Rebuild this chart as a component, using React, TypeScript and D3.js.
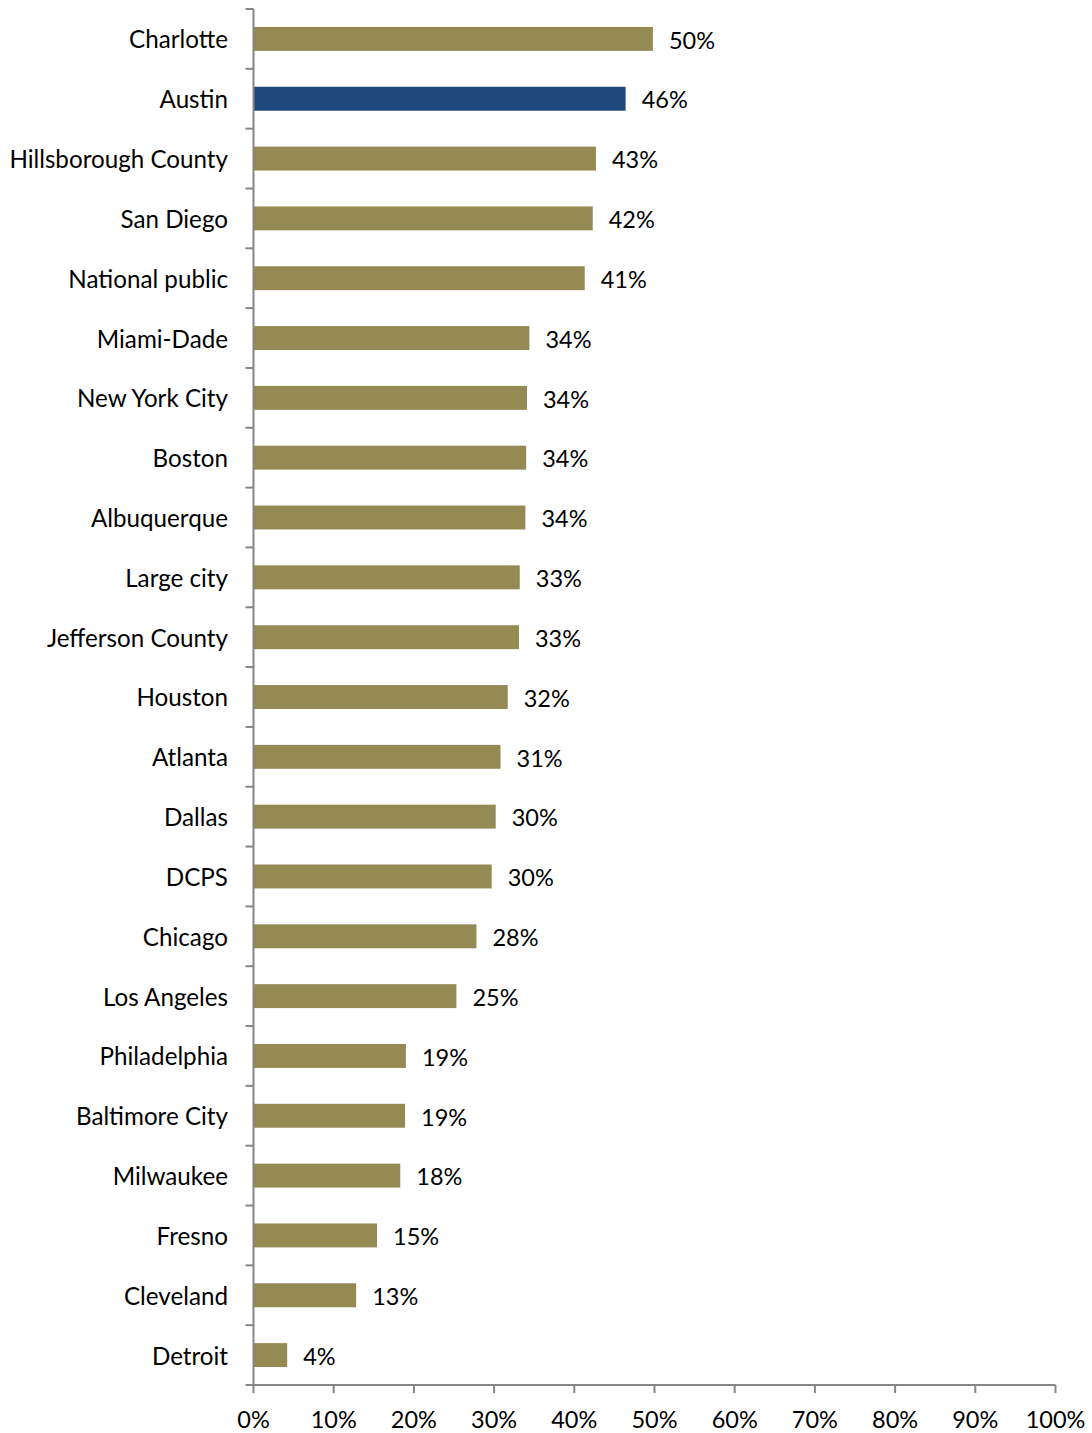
import React from "react";
import * as d3 from "d3";

const categories = [
  "Charlotte", "Austin", "Hillsborough County", "San Diego", "National public",
  "Miami-Dade", "New York City", "Boston", "Albuquerque", "Large city",
  "Jefferson County", "Houston", "Atlanta", "Dallas", "DCPS", "Chicago",
  "Los Angeles", "Philadelphia", "Baltimore City", "Milwaukee", "Fresno",
  "Cleveland", "Detroit",
];
const values = [
  49.8, 46.4, 42.7, 42.3, 41.3, 34.4, 34.1, 34.0, 33.9, 33.2, 33.1, 31.7,
  30.8, 30.2, 29.7, 27.8, 25.3, 19.0, 18.9, 18.3, 15.4, 12.8, 4.2,
];
const labels = [
  "50%", "46%", "43%", "42%", "41%", "34%", "34%", "34%", "34%", "33%", "33%",
  "32%", "31%", "30%", "30%", "28%", "25%", "19%", "19%", "18%", "15%", "13%", "4%",
];
const xTicks = [0, 10, 20, 30, 40, 50, 60, 70, 80, 90, 100];
const highlight = "Austin";

const W = 1092;
const H = 1433;
const FONT = "Lato, 'Open Sans', sans-serif";

export default function App() {
  const x = d3.scaleLinear().domain([0, 100]).range([253.5, 1055.5]);
  const y = d3.scaleBand<string>().domain(categories).range([9, 1385]).paddingInner(0.6).paddingOuter(0.3);
  const band = d3.scaleBand<string>().domain(categories).range([9, 1385]);
  const axisColor = "#868686";
  const x0 = x(0);
  const yBottom = 1385;
  return (
    <svg width={W} height={H} style={{ position: "absolute", left: 0, top: 0 }}>
      <rect x={0} y={0} width={W} height={H} fill="#fff" />
      {categories.map((c, i) => (
        <g key={c}>
          <rect
            x={x0}
            y={y(c)}
            width={x(values[i]) - x0}
            height={y.bandwidth()}
            fill={c === highlight ? "#1F497D" : "#948A54"}
          />
          <text
            x={x(values[i]) + 16}
            y={(band(c) as number) + band.bandwidth() / 2 + 1.5}
            dy="0.35em"
            fontFamily={FONT}
            fontSize={23.5}
            fill="#000"
          >
            {labels[i]}
          </text>
          <text
            x={228}
            y={(band(c) as number) + band.bandwidth() / 2 + 1}
            dy="0.35em"
            textAnchor="end"
            fontFamily={FONT}
            fontSize={24.2}
            fill="#000"
          >
            {c}
          </text>
        </g>
      ))}
      {/* y axis */}
      <line x1={x0} x2={x0} y1={9} y2={yBottom} stroke={axisColor} strokeWidth={2} />
      {[...categories.map((c) => band(c) as number), yBottom].map((v, i) => (
        <line key={i} x1={x0 - 8} x2={x0} y1={v} y2={v} stroke={axisColor} strokeWidth={2} />
      ))}
      {/* x axis */}
      <line x1={x0} x2={x(100)} y1={yBottom} y2={yBottom} stroke={axisColor} strokeWidth={2} />
      {xTicks.map((t) => (
        <g key={t}>
          <line x1={x(t)} x2={x(t)} y1={yBottom} y2={yBottom + 8} stroke={axisColor} strokeWidth={2} />
          <text
            x={x(t)}
            y={1420}
            dy="0.35em"
            textAnchor="middle"
            fontFamily={FONT}
            fontSize={23.5}
            fill="#000"
          >
            {t + "%"}
          </text>
        </g>
      ))}
    </svg>
  );
}
